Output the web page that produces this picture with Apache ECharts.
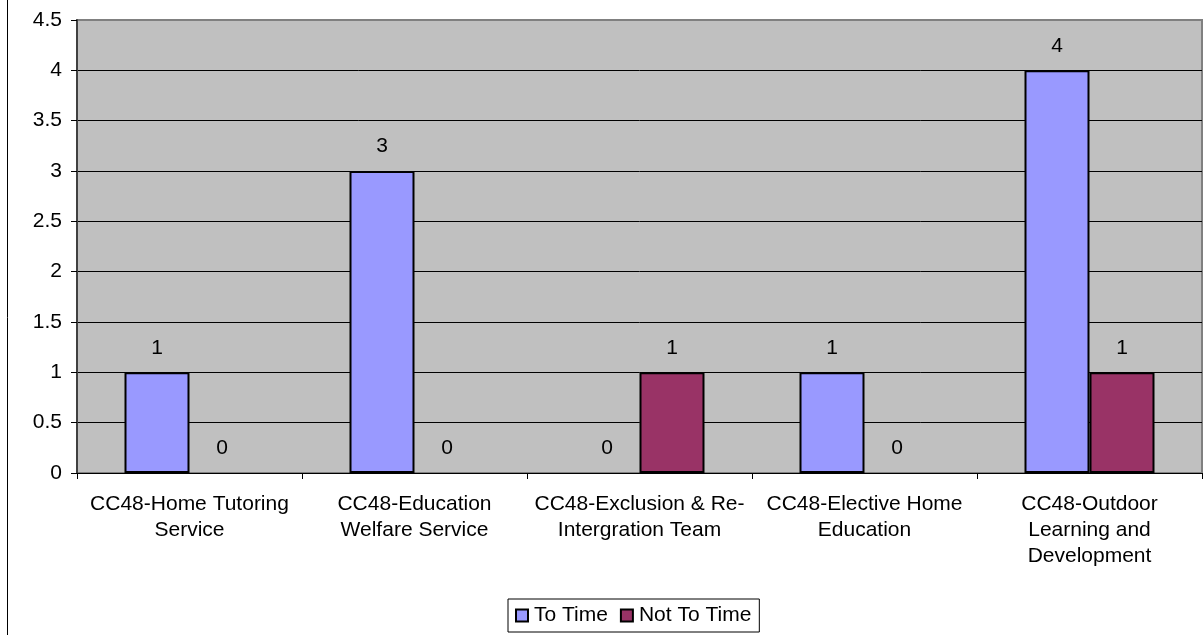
<!DOCTYPE html>
<html>
<head>
<meta charset="utf-8">
<script src="https://cdn.jsdelivr.net/npm/echarts@6/dist/echarts.min.js"></script>
<style>
  html, body { margin: 0; padding: 0; background: #ffffff; }
  #chart { width: 1203px; height: 635px; }
</style>
</head>
<body>
<div id="chart"></div>
<script>
// Service areas (category axis)
const categories = [
  'CC48-Home Tutoring Service',
  'CC48-Education Welfare Service',
  'CC48-Exclusion & Re-Intergration Team',
  'CC48-Elective Home Education',
  'CC48-Outdoor Learning and Development'
];
// Counts per service
const toTime = [1, 3, 0, 1, 4];
const notToTime = [0, 0, 1, 0, 1];
// Value axis ticks
const yMin = 0;
const yMax = 4.5;
const yStep = 0.5;

const FONT = '"Liberation Sans", Arial, sans-serif';
const FONT_SIZE = 21;

// Wrap a label greedily, allowing breaks at spaces and after hyphens
const measureCtx = document.createElement('canvas').getContext('2d');
measureCtx.font = FONT_SIZE + 'px ' + FONT;
function wrapLabel(text, maxWidth) {
  const tokens = text.match(/[^\s-]+-?|-|\s+/g) || [text];
  const lines = [];
  let line = '';
  tokens.forEach(function (tok) {
    const candidate = line + tok;
    if (line.trim() && measureCtx.measureText(candidate.trim()).width > maxWidth) {
      lines.push(line.trim());
      line = tok.replace(/^\s+/, '');
    } else {
      line = candidate;
    }
  });
  if (line.trim()) lines.push(line.trim());
  return lines.join('\n');
}

// Zero-height bars keep their value label but draw no outline
function barData(values) {
  return values.map(function (v) {
    return v === 0 ? { value: v, itemStyle: { borderWidth: 0 } } : v;
  });
}

// Gridlines are black; the one at the top edge is the grey plot frame
const gridLineCount = Math.round((yMax - yMin) / yStep) + 1;
const gridLineColors = [];
for (let i = 0; i < gridLineCount; i++) {
  gridLineColors.push(i === gridLineCount - 1 ? '#808080' : '#000000');
}

const chart = echarts.init(document.getElementById('chart'), null, { renderer: 'canvas' });

const valueLabel = {
  show: true,
  position: 'top',
  distance: 14,
  color: '#000',
  fontFamily: FONT,
  fontSize: FONT_SIZE
};

chart.setOption({
  backgroundColor: '#ffffff',
  animation: false,
  textStyle: { fontFamily: FONT, fontSize: FONT_SIZE, color: '#000' },
  graphic: [{
    type: 'rect',
    shape: { x: 7.5, y: -10, width: 1400, height: 800 },
    style: { fill: 'none', stroke: '#000', lineWidth: 1 },
    silent: true,
    z: 100
  }],
  grid: {
    left: 77,
    top: 20,
    right: 1,
    bottom: 162,
    show: true,
    backgroundColor: '#C0C0C0',
    borderColor: '#808080',
    borderWidth: 2
  },
  legend: {
    data: ['To Time', 'Not To Time'],
    left: 508,
    top: 599,
    orient: 'horizontal',
    icon: 'rect',
    itemWidth: 12,
    itemHeight: 12,
    itemGap: 12,
    padding: [6, 8, 6, 7],
    borderColor: '#000',
    borderWidth: 1,
    backgroundColor: '#fff',
    itemStyle: { borderColor: '#000', borderWidth: 2 },
    textStyle: { fontFamily: FONT, fontSize: FONT_SIZE, color: '#000', padding: [0, 0, 0, 1] }
  },
  xAxis: {
    type: 'category',
    data: categories,
    boundaryGap: true,
    axisLine: { show: true, lineStyle: { color: '#000', width: 1 } },
    axisTick: { show: true, length: 6, lineStyle: { color: '#000' }, alignWithLabel: false },
    axisLabel: {
      interval: 0,
      margin: 18,
      color: '#000',
      fontFamily: FONT,
      fontSize: FONT_SIZE,
      lineHeight: 26,
      align: 'center',
      formatter: function (v) { return wrapLabel(v, 215); }
    },
    splitLine: { show: false }
  },
  yAxis: {
    type: 'value',
    min: yMin,
    max: yMax,
    interval: yStep,
    axisLine: { show: true, lineStyle: { color: '#404040', width: 2 } },
    axisTick: { show: true, length: 6, lineStyle: { color: '#000' } },
    axisLabel: {
      margin: 15,
      color: '#000',
      fontFamily: FONT,
      fontSize: FONT_SIZE,
      formatter: function (v) { return String(v); }
    },
    splitLine: { show: true, lineStyle: { color: gridLineColors, width: 1 } }
  },
  series: [
    {
      name: 'To Time',
      type: 'bar',
      data: barData(toTime),
      barWidth: 65,
      barGap: '0%',
      itemStyle: { color: '#9999FF', borderColor: '#000', borderWidth: 2 },
      label: valueLabel
    },
    {
      name: 'Not To Time',
      type: 'bar',
      data: barData(notToTime),
      barWidth: 65,
      barGap: '0%',
      itemStyle: { color: '#993366', borderColor: '#000', borderWidth: 2 },
      label: valueLabel
    }
  ]
});
</script>
</body>
</html>
